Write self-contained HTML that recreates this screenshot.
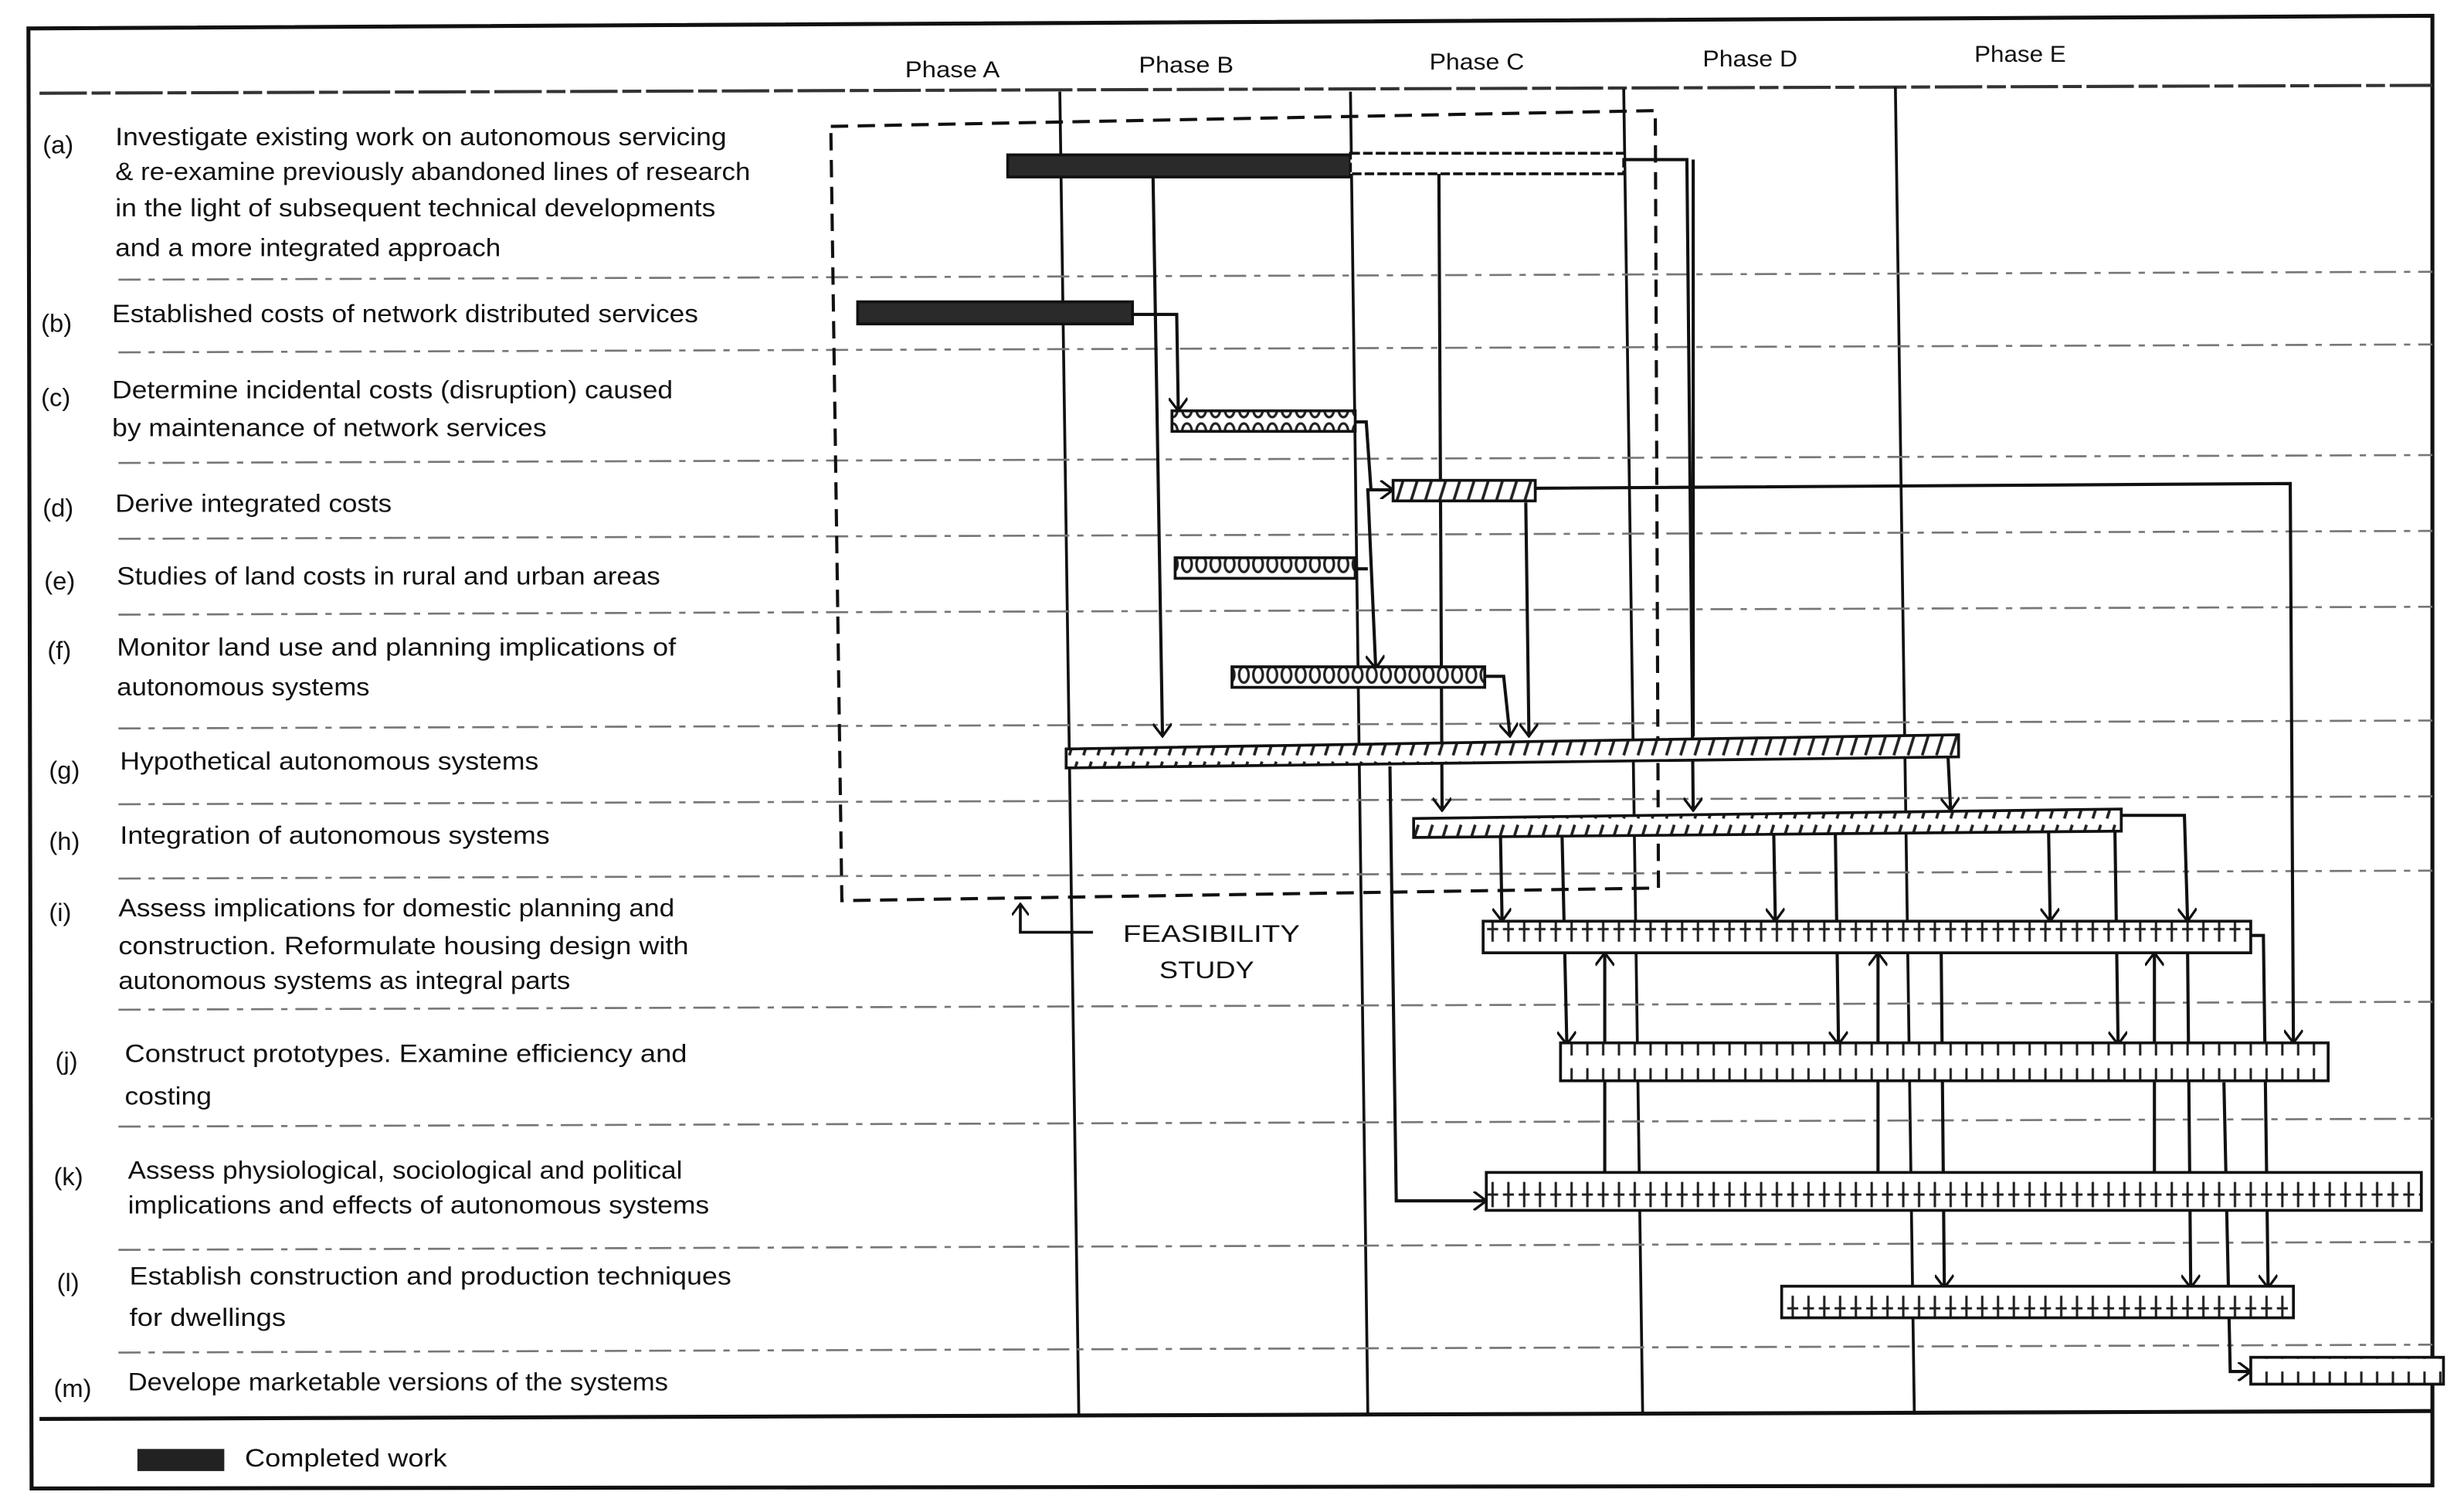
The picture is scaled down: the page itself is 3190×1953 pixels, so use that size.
<!DOCTYPE html>
<html><head><meta charset="utf-8"><style>
html,body{margin:0;padding:0;background:#fff;}
svg{display:block;}
text{font-family:"Liberation Sans",sans-serif;fill:#111;}
</style></head><body>
<svg width="3190" height="1953" viewBox="0 0 1560 955" preserveAspectRatio="none" xmlns="http://www.w3.org/2000/svg">
<defs>
<pattern id="hat" width="9" height="20" patternUnits="userSpaceOnUse"><rect width="9" height="20" fill="#fff"/><path d="M2 18 L7 2" stroke="#222" stroke-width="1.8"/></pattern>
<pattern id="ring" width="9" height="14" patternUnits="userSpaceOnUse"><rect width="9" height="14" fill="#fff"/><ellipse cx="4.5" cy="7" rx="3" ry="5" fill="none" stroke="#222" stroke-width="1.6"/></pattern>
<pattern id="plus" width="10" height="24" patternUnits="userSpaceOnUse"><rect width="10" height="24" fill="#fff"/><path d="M5 4 V20 M1.5 12 H8.5" stroke="#222" stroke-width="1.5"/></pattern>
<marker id="ah" viewBox="0 0 12 12" refX="11" refY="6" markerWidth="6" markerHeight="6" orient="auto" markerUnits="strokeWidth"><path d="M3 0 L11 6 L3 12" fill="none" stroke="#111" stroke-width="1.6"/></marker>
<marker id="ar" viewBox="0 0 12 12" refX="11" refY="6" markerWidth="6" markerHeight="6" orient="auto" markerUnits="strokeWidth"><path d="M3 0 L11 6 L3 12" fill="none" stroke="#111" stroke-width="1.6"/></marker>
</defs>
<rect width="1560" height="955" fill="#fff"/>
<path d="M18 18 L1540 10 L1540 940 L20 942 Z" fill="none" stroke="#111" stroke-width="2.5"/>
<line x1="25" y1="59" x2="1540" y2="54" stroke="#333" stroke-width="2" stroke-dasharray="30 3 12 3"/>
<line x1="25" y1="898" x2="1540" y2="893" stroke="#111" stroke-width="2.5"/>
<g font-size="14.5">
<text x="573" y="49" textLength="60" lengthAdjust="spacingAndGlyphs">Phase A</text><text x="721" y="46" textLength="60" lengthAdjust="spacingAndGlyphs">Phase B</text><text x="905" y="44" textLength="60" lengthAdjust="spacingAndGlyphs">Phase C</text><text x="1078" y="42" textLength="60" lengthAdjust="spacingAndGlyphs">Phase D</text><text x="1250" y="39" textLength="58" lengthAdjust="spacingAndGlyphs">Phase E</text>
</g>
<g stroke="#111" stroke-width="1.8">
<line x1="671" y1="58" x2="683" y2="895"/><line x1="855" y1="58" x2="866" y2="895"/><line x1="1028" y1="56" x2="1040" y2="895"/><line x1="1200" y1="55" x2="1212" y2="895"/>
</g>
<g stroke="#777" stroke-width="1.3" stroke-dasharray="14 5 4 5">
<line x1="75" y1="177" x2="1540" y2="172"/><line x1="75" y1="223" x2="1540" y2="218"/><line x1="75" y1="293" x2="1540" y2="288"/>
<line x1="75" y1="341" x2="1540" y2="336"/><line x1="75" y1="389" x2="1540" y2="384"/><line x1="75" y1="461" x2="1540" y2="456"/>
<line x1="75" y1="509" x2="1540" y2="504"/><line x1="75" y1="556" x2="1540" y2="551"/><line x1="75" y1="639" x2="1540" y2="634"/>
<line x1="75" y1="713" x2="1540" y2="708"/><line x1="75" y1="791" x2="1540" y2="786"/><line x1="75" y1="856" x2="1540" y2="851"/>
</g>
<g font-size="16">
<text x="27" y="97">(a)</text>
<text x="73" y="92" textLength="387" lengthAdjust="spacingAndGlyphs">Investigate existing work on autonomous servicing</text>
<text x="73" y="114" textLength="402" lengthAdjust="spacingAndGlyphs">&amp; re-examine previously abandoned lines of research</text>
<text x="73" y="137" textLength="380" lengthAdjust="spacingAndGlyphs">in the light of subsequent technical developments</text>
<text x="73" y="162" textLength="244" lengthAdjust="spacingAndGlyphs">and a more integrated approach</text>
<text x="26" y="210">(b)</text><text x="71" y="204" textLength="371" lengthAdjust="spacingAndGlyphs">Established costs of network distributed services</text>
<text x="26" y="257">(c)</text><text x="71" y="252" textLength="355" lengthAdjust="spacingAndGlyphs">Determine incidental costs (disruption) caused</text>
<text x="71" y="276" textLength="275" lengthAdjust="spacingAndGlyphs">by maintenance of network services</text>
<text x="27" y="327">(d)</text><text x="73" y="324" textLength="175" lengthAdjust="spacingAndGlyphs">Derive integrated costs</text>
<text x="28" y="373">(e)</text><text x="74" y="370" textLength="344" lengthAdjust="spacingAndGlyphs">Studies of land costs in rural and urban areas</text>
<text x="30" y="417">(f)</text><text x="74" y="415" textLength="354" lengthAdjust="spacingAndGlyphs">Monitor land use and planning implications of</text>
<text x="74" y="440" textLength="160" lengthAdjust="spacingAndGlyphs">autonomous systems</text>
<text x="31" y="493">(g)</text><text x="76" y="487" textLength="265" lengthAdjust="spacingAndGlyphs">Hypothetical autonomous systems</text>
<text x="31" y="538">(h)</text><text x="76" y="534" textLength="272" lengthAdjust="spacingAndGlyphs">Integration of autonomous systems</text>
<text x="31" y="583">(i)</text><text x="75" y="580" textLength="352" lengthAdjust="spacingAndGlyphs">Assess implications for domestic planning and</text>
<text x="75" y="604" textLength="361" lengthAdjust="spacingAndGlyphs">construction. Reformulate housing design with</text>
<text x="75" y="626" textLength="286" lengthAdjust="spacingAndGlyphs">autonomous systems as integral parts</text>
<text x="35" y="677">(j)</text><text x="79" y="672" textLength="356" lengthAdjust="spacingAndGlyphs">Construct prototypes. Examine efficiency and</text>
<text x="79" y="699" textLength="55" lengthAdjust="spacingAndGlyphs">costing</text>
<text x="34" y="750">(k)</text><text x="81" y="746" textLength="351" lengthAdjust="spacingAndGlyphs">Assess physiological, sociological and political</text>
<text x="81" y="768" textLength="368" lengthAdjust="spacingAndGlyphs">implications and effects of autonomous systems</text>
<text x="36" y="817">(l)</text><text x="82" y="813" textLength="381" lengthAdjust="spacingAndGlyphs">Establish construction and production techniques</text>
<text x="82" y="839" textLength="99" lengthAdjust="spacingAndGlyphs">for dwellings</text>
<text x="34" y="884">(m)</text><text x="81" y="880" textLength="342" lengthAdjust="spacingAndGlyphs">Develope marketable versions of the systems</text>
<text x="711" y="596" font-size="15.5" textLength="112" lengthAdjust="spacingAndGlyphs">FEASIBILITY</text>
<text x="734" y="619" font-size="15.5" textLength="60" lengthAdjust="spacingAndGlyphs">STUDY</text>
<text x="155" y="928" font-size="16" textLength="128" lengthAdjust="spacingAndGlyphs">Completed work</text>
</g>
<rect x="87" y="917" width="55" height="14" fill="#222"/>
<path d="M526 80 L1048 70 L1050 562 L533 570 Z" fill="none" stroke="#111" stroke-width="2" stroke-dasharray="11 6"/>
<path d="M692 590 L646 590 L646 572" fill="none" stroke="#111" stroke-width="1.8" marker-end="url(#ah)"/>
<g fill="none" stroke="#111" stroke-width="2">
<line x1="730" y1="111" x2="736" y2="466" marker-end="url(#ah)"/>
<line x1="911" y1="110" x2="913" y2="513" marker-end="url(#ah)"/>
<path d="M1028 101 L1068 101 L1072 513" marker-end="url(#ah)"/>
<line x1="1072" y1="101" x2="1072" y2="466"/>
<path d="M717 199 L745 199 L746 260" marker-end="url(#ah)"/>
<path d="M858 267 L865 267 L868 310"/>
<path d="M865 310 L882 310" marker-end="url(#ar)"/>
<path d="M858 360 L866 360"/>
<line x1="866" y1="310" x2="871" y2="423" marker-end="url(#ah)"/>
<path d="M972 309 L1450 306 L1452 660" marker-end="url(#ah)"/>
<line x1="966" y1="318" x2="968" y2="466" marker-end="url(#ah)"/>
<path d="M940 428 L952 428 L956 466" marker-end="url(#ah)"/>
<path d="M880 485 L884 760 L941 760" marker-end="url(#ar)"/>
<path d="M1240 472 L1233 472 L1235 513" marker-end="url(#ah)"/>
<path d="M1343 516 L1383 516 L1385 583" marker-end="url(#ah)"/>
<line x1="950" y1="530" x2="951" y2="583" marker-end="url(#ah)"/>
<line x1="1123" y1="528" x2="1124" y2="583" marker-end="url(#ah)"/>
<line x1="1297" y1="526" x2="1298" y2="583" marker-end="url(#ah)"/>
<line x1="989" y1="530" x2="992" y2="661" marker-end="url(#ah)"/>
<line x1="1162" y1="528" x2="1164" y2="661" marker-end="url(#ah)"/>
<line x1="1339" y1="526" x2="1341" y2="661" marker-end="url(#ah)"/>
<line x1="1016" y1="742" x2="1016" y2="603" marker-end="url(#ah)"/>
<line x1="1189" y1="742" x2="1189" y2="603" marker-end="url(#ah)"/>
<line x1="1364" y1="742" x2="1364" y2="603" marker-end="url(#ah)"/>
<line x1="1229" y1="602" x2="1231" y2="815" marker-end="url(#ah)"/>
<line x1="1385" y1="602" x2="1387" y2="815" marker-end="url(#ah)"/>
<path d="M1425 592 L1433 592 L1436 815" marker-end="url(#ah)"/>
<path d="M1408 685 L1412 868 L1425 868" marker-end="url(#ar)"/>
</g>
<g stroke="#111" stroke-width="1.8">
<rect x="638" y="98" width="217" height="14" fill="#2a2a2a"/>
<rect x="855" y="97" width="173" height="13" fill="#fff" stroke-dasharray="6 2"/>
<rect x="543" y="191" width="174" height="14" fill="#2a2a2a"/>
<rect x="742" y="260" width="116" height="13" fill="url(#ring)"/>
<rect x="882" y="304" width="90" height="13" fill="url(#hat)"/>
<rect x="744" y="353" width="114" height="13" fill="url(#ring)"/>
<rect x="780" y="422" width="160" height="13" fill="url(#ring)"/>
<path d="M675 474 L1240 465 L1240 479 L675 486 Z" fill="url(#hat)"/>
<path d="M895 518 L1343 512 L1343 526 L895 530 Z" fill="url(#hat)"/>
<rect x="939" y="583" width="486" height="20" fill="url(#plus)"/>
<rect x="988" y="660" width="486" height="24" fill="url(#plus)"/>
<rect x="941" y="742" width="592" height="24" fill="url(#plus)"/>
<rect x="1128" y="814" width="324" height="20" fill="url(#plus)"/>
<rect x="1425" y="859" width="122" height="17" fill="url(#plus)"/>
</g>
</svg>
</body></html>
